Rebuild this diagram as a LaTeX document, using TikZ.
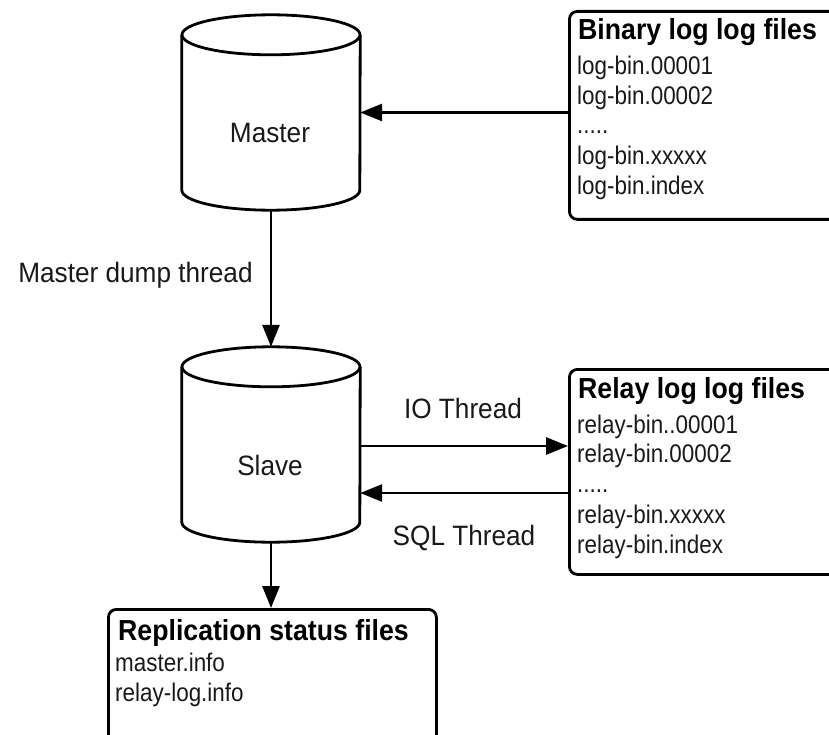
\documentclass[tikz,border=0pt]{standalone}
\usepackage{fontspec}
\setmainfont{Liberation Sans}
\usetikzlibrary{arrows.meta,calc}

% cylinder outline drawn around an invisible body node
\newcommand\drawcyl[1]{%
  \draw[line] ($(#1.north)+(0,-20)$) ellipse[x radius=89, y radius=20];
  \draw[line] ($(#1.north west)+(0,-20)$) -- ($(#1.south west)+(0,20)$)
    arc[start angle=180, end angle=360, x radius=89, y radius=20]
    -- ($(#1.north east)+(0,-20)$);
}
% slightly condensed type
\newcommand\lbltext[1]{\scalebox{0.935}[1]{#1}}
\newcommand\titletext[1]{\scalebox{0.92}[1]{#1}}
\newcommand\entrytext[1]{\scalebox{0.88}[1]{#1}}

\begin{document}
\begin{tikzpicture}[x=1pt, y=1pt,
  line/.style={line width=2.8pt},
  arr/.style={line, -{Triangle[length=22pt, width=17pt]}},
  filebox/.style={draw, line width=2.8pt, rounded corners=8pt, anchor=north west, inner sep=0pt},
  body/.style={draw=none, inner sep=0pt, minimum width=178pt, minimum height=195pt},
  lbl/.style={font=\fontsize{28}{32}\selectfont, inner sep=0pt, text=black!90},
  title/.style={font=\bfseries\fontsize{29}{33}\selectfont, anchor=base west, inner sep=0pt},
  entry/.style={font=\fontsize{25.5}{29}\selectfont, anchor=base west, inner sep=0pt, text=black!90},
]
\useasboundingbox (0,0) rectangle (829,-735);
\clip (0,0) rectangle (829,-735);

% databases
\node[body] (master) at (271,-112.5) {};
\drawcyl{master}
\node[lbl] (masterlbl) at (270,-133) {\lbltext{Master}};

\node[body] (slave) at (271,-444.5) {};
\drawcyl{slave}
\node[lbl] (slavelbl) at (270,-465) {\lbltext{Slave}};

% file lists
\node[filebox, minimum width=290pt, minimum height=208pt] (binary) at (568,-10) {};
\node[title] (bt) at (578,-40) {\titletext{Binary log log files}};
\node[entry] (b1) at (577,-75)  {\entrytext{log-bin.00001}};
\node[entry] (b2) at (577,-105) {\entrytext{log-bin.00002}};
\node[entry] (b3) at (577,-134) {\entrytext{.....}};
\node[entry] (b4) at (577,-165) {\entrytext{log-bin.xxxxx}};
\node[entry] (b5) at (577,-195) {\entrytext{log-bin.index}};

\node[filebox, minimum width=290pt, minimum height=205pt] (relay) at (568,-368) {};
\node[title] (rt) at (578,-398) {\titletext{Relay log log files}};
\node[entry] (r1) at (577,-433) {\entrytext{relay-bin..00001}};
\node[entry] (r2) at (577,-462) {\entrytext{relay-bin.00002}};
\node[entry] (r3) at (577,-492) {\entrytext{.....}};
\node[entry] (r4) at (577,-523) {\entrytext{relay-bin.xxxxx}};
\node[entry] (r5) at (577,-553) {\entrytext{relay-bin.index}};

\node[filebox, minimum width=328pt, minimum height=140pt] (repl) at (107,-608) {};
\node[title] (pt) at (118,-640) {\titletext{Replication status files}};
\node[entry] (p1) at (115,-671) {\entrytext{master.info}};
\node[entry] (p2) at (115,-701) {\entrytext{relay-log.info}};

% threads
\coordinate (io)  at (0,-446);
\coordinate (sql) at (0,-493);
\draw[arr] (binary.west |- master.east) -- (master.east);
\draw[arr] (master.south) -- (slave.north);
\draw[arr] (slave.east |- io) -- (relay.west |- io);
\draw[arr] (relay.west |- sql) -- (slave.east |- sql);
\draw[arr] (slave.south) -- (repl.north -| slave.south);

\node[lbl] (dump) at (135.5,-275) {\lbltext{Master dump thread}};
\node[lbl] (iol)  at (463,-408) {\lbltext{IO Thread}};
\node[lbl] (sqll) at (464,-538) {\lbltext{SQL Thread}};
\end{tikzpicture}
\end{document}
